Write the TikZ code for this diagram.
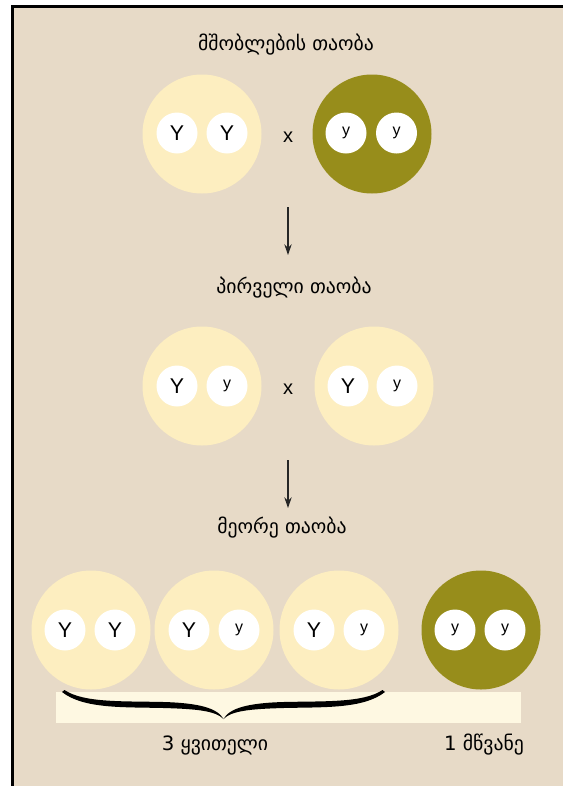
\documentclass[tikz,border=0pt]{standalone}
\usepackage{fontspec}
\setmainfont{Liberation Sans}
\newfontfamily\geofont{DejaVu Sans}
\usetikzlibrary{
  arrows.meta,
  positioning
}

\definecolor{bgBeige}{RGB}{231,218,199}
\definecolor{peaYellow}{RGB}{253,238,192}
\definecolor{peaGreen}{RGB}{151,141,27}
\definecolor{stripCream}{RGB}{254,248,226}

\tikzset{
  yellowpea/.style={circle, fill=peaYellow, minimum size=89.25pt, inner sep=0pt},
  greenpea/.style={circle, fill=peaGreen, minimum size=89.25pt, inner sep=0pt},
  allele/.style={circle, fill=white, minimum size=30.75pt, inner sep=0pt},
  domallele/.style={allele, font=\fontsize{16}{16}\selectfont},
  recallele/.style={allele, font=\fontsize{12}{12}\selectfont},
  gentitle/.style={inner sep=0pt, font=\geofont\fontsize{14.8}{17}\selectfont},
  crossmark/.style={inner sep=0pt, font=\fontsize{15}{15}\selectfont},
  descent/.style={-{Stealth[length=8pt,width=5.5pt]}, line width=1pt, draw=black!85}
}

\begin{document}
\begin{tikzpicture}[x=0.75pt, y=-0.75pt]
      \useasboundingbox (0,0) rectangle (563,786);
      % frame
      \fill[white] (0,0) rectangle (563,786);
      \fill[bgBeige] (12,6) rectangle (563,786);
      \draw[line width=1.8pt] (12.3,786) -- (12.3,6.3) -- (563,6.3);

      % parents
      \node[gentitle] (t1) at (286,45) {მშობლების თაობა};
      \node[yellowpea] (p1) at (202,134) {};
      \node[domallele] (p1a) at (177,133) {Y};
      \node[domallele] (p1b) at (227,133) {Y};
      \node[crossmark] (x1) at (288,137) {x};
      \node[greenpea] (p2) at (372,134) {};
      \node[recallele] (p2a) at (346,133) {y};
      \node[recallele] (p2b) at (396.5,133) {y};

      \coordinate (d1top) at (288,207);
      \coordinate (d1bot) at (288,255);
      \draw[descent] (d1top) -- (d1bot);

      % first generation
      \node[gentitle] (t2) at (294,288) {პირველი თაობა};
      \node[yellowpea] (f1) at (202,386) {};
      \node[domallele] (f1a) at (177,386) {Y};
      \node[recallele] (f1b) at (227,386) {y};
      \node[crossmark] (x2) at (288,389) {x};
      \node[yellowpea] (f2) at (374,386) {};
      \node[domallele] (f2a) at (348,386) {Y};
      \node[recallele] (f2b) at (397,386) {y};

      \coordinate (d2top) at (288,460);
      \coordinate (d2bot) at (288,508);
      \draw[descent] (d2top) -- (d2bot);

      % second generation
      \node[gentitle] (t3) at (282,528) {მეორე თაობა};
      \node[yellowpea] (s1) at (91,630) {};
      \node[domallele] (s1a) at (65,630) {Y};
      \node[domallele] (s1b) at (115,630) {Y};
      \node[yellowpea] (s2) at (214,630) {};
      \node[domallele] (s2a) at (189,630) {Y};
      \node[recallele] (s2b) at (239,630) {y};
      \node[yellowpea] (s3) at (339,630) {};
      \node[domallele] (s3a) at (314,630) {Y};
      \node[recallele] (s3b) at (364,630) {y};
      \node[greenpea] (s4) at (481,630) {};
      \node[recallele] (s4a) at (455,630) {y};
      \node[recallele] (s4b) at (505,630) {y};

      % ratio strip and brace
      \fill[stripCream] (56,692) rectangle (521,723);
      \begin{scope}[shift={(223.5,719)}]
        \foreach \s in {1,-1}
          \fill[xscale=\s] (-161.5,-27) .. controls (-140,-10) and (-100,-12) .. (-60,-11)
            .. controls (-25,-10) and (-8,-8) .. (0,0)
            .. controls (-6,-11) and (-25,-16) .. (-60,-17)
            .. controls (-100,-18) and (-140,-16) .. (-159,-29) -- cycle;
      \end{scope}
      \node[gentitle] (r1) at (215,745) {3 ყვითელი};
      \node[gentitle] (r2) at (484,745) {1 მწვანე};
    \end{tikzpicture}
\end{document}
